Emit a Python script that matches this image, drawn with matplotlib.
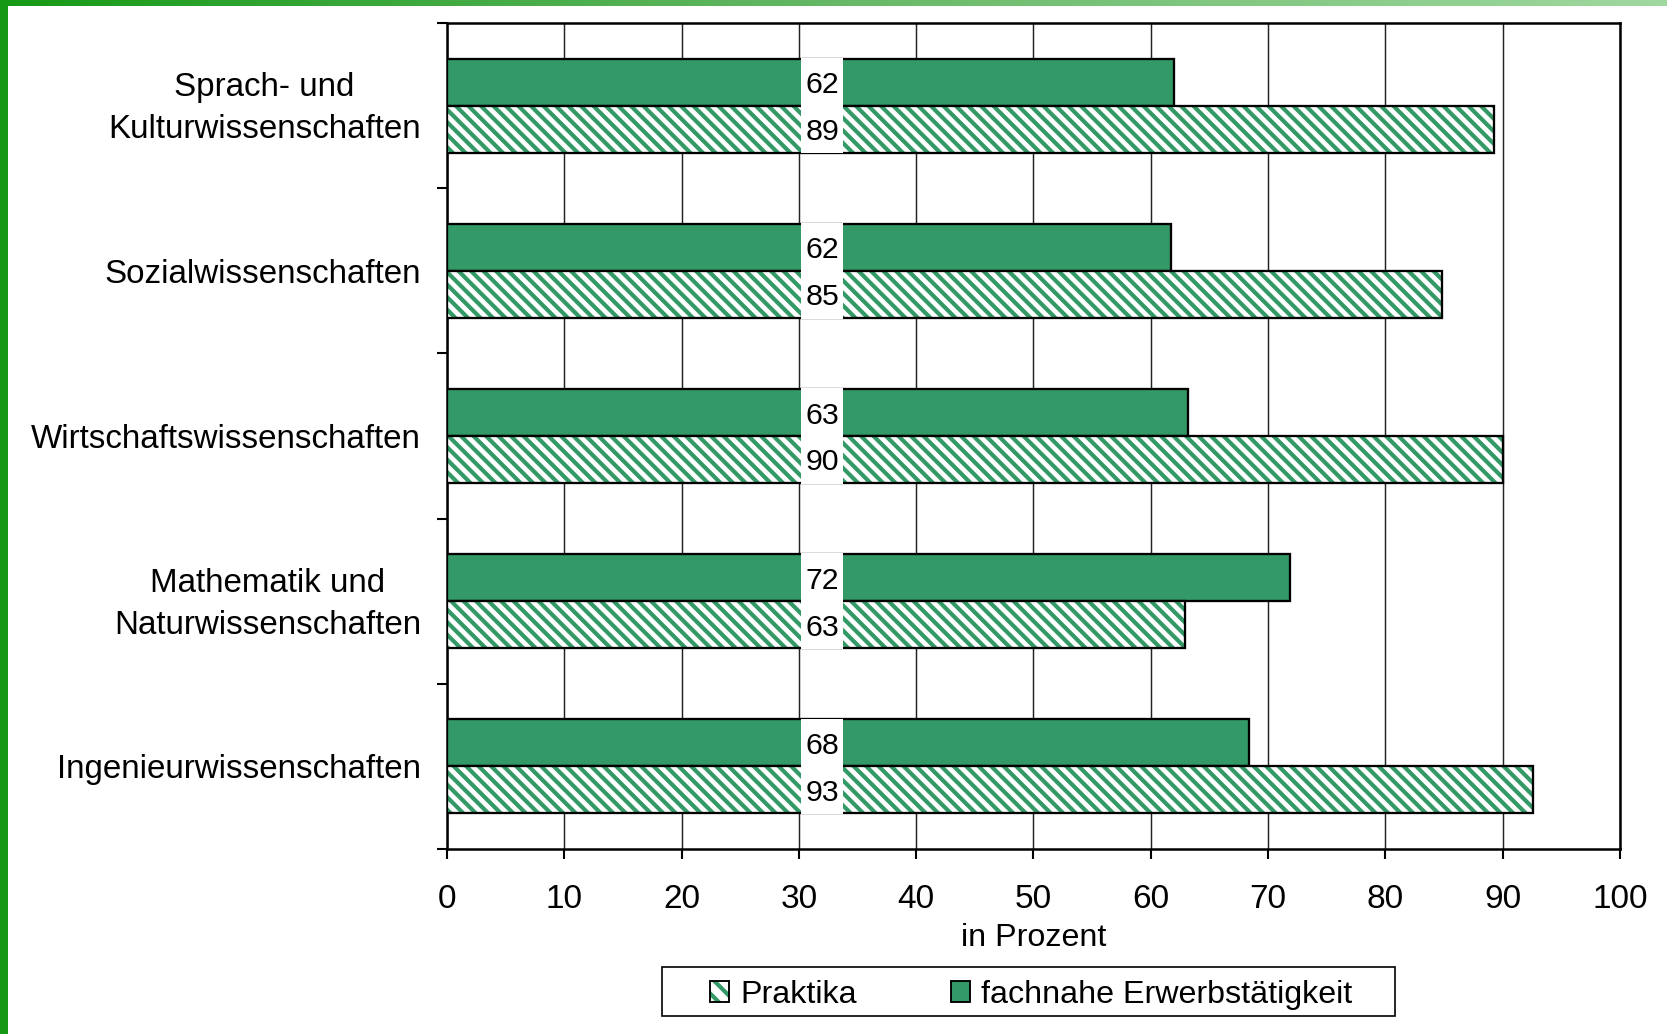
import numpy as np
import matplotlib.pyplot as plt
import matplotlib.transforms as mtransforms
from matplotlib.patches import Rectangle, Patch
from matplotlib.colors import LinearSegmentedColormap

plt.rcParams['font.family'] = ['Liberation Sans', 'DejaVu Sans']
plt.rcParams['hatch.linewidth'] = 2.0

# Data
categories = ['Sprach- und\nKulturwissenschaften', 'Sozialwissenschaften',
              'Wirtschaftswissenschaften', 'Mathematik und\nNaturwissenschaften',
              'Ingenieurwissenschaften']
fachnahe = [62.0, 61.7, 63.2, 71.9, 68.4]   # fachnahe Erwerbstätigkeit
praktika = [89.3, 84.8, 90.0, 62.9, 92.6]   # Praktika
xticks = np.arange(0, 101, 10)

dark_green = '#339966'
hatch = '\\\\\\\\'
W, H = 1668, 1034
fig = plt.figure(figsize=(W / 150, H / 150), dpi=150)
ax = fig.add_axes([447 / W, 1 - 849 / H, (1620 - 447) / W, (849 - 23) / H])

y = np.arange(len(categories))
bh = 0.284
# solid bars
ax.barh(y - bh / 2, fachnahe, height=bh, color=dark_green, edgecolor='black',
        linewidth=1.1, zorder=3)
# hatched bars: hatch first, outline on top
ax.barh(y + bh / 2, praktika, height=bh, color='white', edgecolor=dark_green,
        hatch=hatch, linewidth=0, zorder=3)
ax.barh(y + bh / 2, praktika, height=bh, fill=False, edgecolor='black',
        linewidth=1.1, zorder=4)

# value labels on a white column
lab_x = 32.0
lab_w = 3.6
ax.barh(y, lab_w, left=lab_x - lab_w / 2, height=2 * bh + 0.01, color='white',
        linewidth=0, zorder=5)
for i in range(len(categories)):
    for yy, v in ((y[i] - bh / 2, fachnahe[i]), (y[i] + bh / 2, praktika[i])):
        ax.text(lab_x, yy, f'{v:.0f}', ha='center', va='center_baseline',
                fontsize=14.5, zorder=6)

ax.set_xlim(0, 100)
ax.set_ylim(len(categories) - 0.5, -0.5)
ax.set_xticks(xticks)
ax.tick_params(axis='x', length=4.8, width=1, direction='out', labelsize=16, pad=12)
ax.set_yticks(y)
ax.set_yticklabels(categories)
ax.tick_params(axis='y', which='major', length=0, labelsize=15.9, pad=12.5)
shift = mtransforms.ScaledTranslation(0, -1.5 / 72, fig.dpi_scale_trans)
for lbl in ax.get_yticklabels():
    lbl.set_multialignment('center')
    lbl.set_linespacing(1.45)
    if '\n' in lbl.get_text():
        lbl.set_va('center')
        lbl.set_transform(lbl.get_transform() + shift)
ax.set_yticks(np.arange(-0.5, len(categories)), minor=True)
ax.tick_params(axis='y', which='minor', length=4.8, width=1, direction='out')
ax.grid(axis='x', color='#222222', linewidth=0.7, zorder=0)
ax.set_axisbelow(True)
for s in ax.spines.values():
    s.set_linewidth(1.2)
ax.set_xlabel('in Prozent', fontsize=15.5, labelpad=4)

# legend
h_prak = (Patch(facecolor='white', edgecolor=dark_green, hatch='\\\\\\', linewidth=0),
          Patch(fill=False, edgecolor='black', linewidth=0.9))
h_fach = Patch(facecolor=dark_green, edgecolor='black', linewidth=0.9)
leg = fig.legend([h_prak, h_fach], ['Praktika', 'fachnahe Erwerbstätigkeit'],
                 loc='center', bbox_to_anchor=(1031 / W, 1 - 995 / H), ncol=2,
                 frameon=False, fontsize=15.5, handlelength=0.6, handleheight=0.6,
                 handletextpad=0.35, columnspacing=2.9, borderpad=0)
fig.patches.append(Rectangle((662 / W, 1 - 1016 / H), (1395 - 662) / W, 49 / H,
                             transform=fig.transFigure, fill=False,
                             edgecolor='black', linewidth=0.8))

# green frame
fig.patches.append(Rectangle((0, 0), 8 / W, 1, transform=fig.transFigure,
                             facecolor='#169a16', edgecolor='none', zorder=10))
band = fig.add_axes([0, 1 - 6 / H, 1, 6 / H])
grad = np.linspace(0, 1, 256)[None, :]
cmap = LinearSegmentedColormap.from_list('g', ['#169a16', '#66b866', '#a0d8a0'])
band.imshow(grad, aspect='auto', cmap=cmap)
band.axis('off')

fig.savefig('out.png', dpi=150)
